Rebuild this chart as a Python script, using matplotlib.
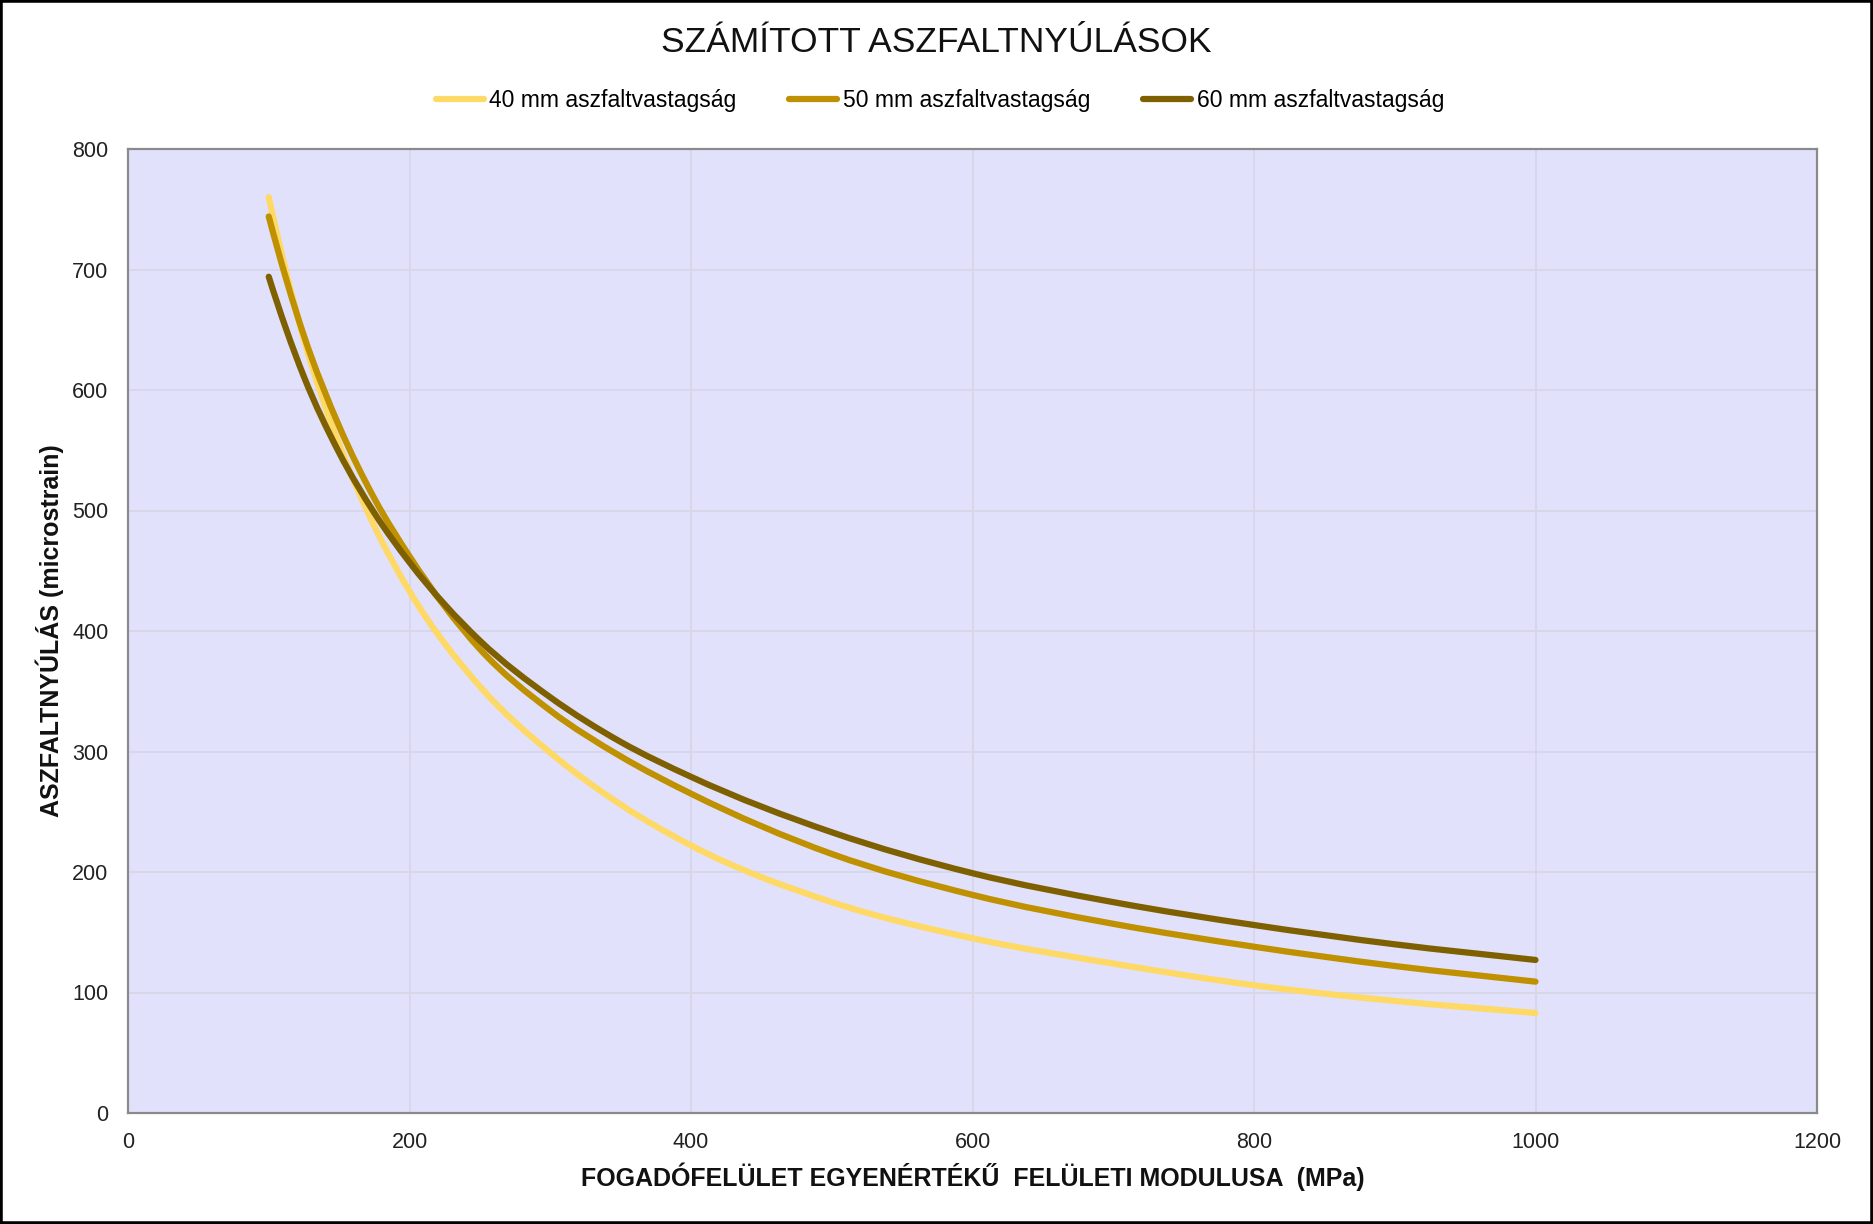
import matplotlib
matplotlib.use("Agg")
import matplotlib.pyplot as plt
from matplotlib.path import Path
from matplotlib.patches import PathPatch, Rectangle
from matplotlib.lines import Line2D
import numpy as np

plt.rcParams['font.family'] = ['Liberation Sans', 'DejaVu Sans']

# ---- data ----
title = "SZÁMÍTOTT ASZFALTNYÚLÁSOK"
x_label = "FOGADÓFELÜLET EGYENÉRTÉKŰ  FELÜLETI MODULUSA  (MPa)"
y_label = "ASZFALTNYÚLÁS (microstrain)"
series_names = ["40 mm aszfaltvastagság", "50 mm aszfaltvastagság", "60 mm aszfaltvastagság"]
modulus = [100, 125, 150, 175, 200, 250, 300, 350, 400, 500, 600, 700, 800, 900, 1000]
strain_40 = [760, 642, 555, 487, 433, 354, 299, 256, 222, 175, 145, 124, 106, 93, 83]
strain_50 = [744, 645, 570, 510, 462, 385, 334, 296, 265, 215, 181, 157, 138, 122, 109]
strain_60 = [694, 611, 548, 498, 457, 392, 345, 308, 279, 233, 199, 175, 156, 140, 127]
x_ticks = [0, 200, 400, 600, 800, 1000, 1200]
y_ticks = [0, 100, 200, 300, 400, 500, 600, 700, 800]

colors = ["#FFD966", "#BF9000", "#7F6000"]


def smooth_path(xs, ys):
    """Cubic Bezier path through the data points (like a smoothed line)."""
    xs = np.asarray(xs, float)
    ys = np.asarray(ys, float)
    h = np.diff(xs)
    d = np.diff(ys) / h
    m = np.empty_like(xs)
    m[0] = d[0] + (d[0] - d[1]) * h[0] / (h[0] + h[1])
    m[-1] = d[-1]
    for i in range(1, len(xs) - 1):
        m[i] = (d[i - 1] * h[i] + d[i] * h[i - 1]) / (h[i - 1] + h[i])
    verts = [(xs[0], ys[0])]
    codes = [Path.MOVETO]
    for i in range(len(xs) - 1):
        verts += [(xs[i] + h[i] / 3, ys[i] + m[i] * h[i] / 3),
                  (xs[i + 1] - h[i] / 3, ys[i + 1] - m[i + 1] * h[i] / 3),
                  (xs[i + 1], ys[i + 1])]
        codes += [Path.CURVE4] * 3
    return Path(verts, codes)


W, H = 1873, 1224
fig = plt.figure(figsize=(W / 100, H / 100), dpi=100)
fig.patch.set_facecolor("white")

ax = fig.add_axes([128 / W, 1 - 1113 / H, (1817 - 128) / W, (1113 - 149) / H])
ax.set_facecolor("#E1E1FC")

lw = 4.5
handles = []
for ys, c, name in zip([strain_40, strain_50, strain_60], colors, series_names):
    patch = PathPatch(smooth_path(modulus, ys), facecolor="none", edgecolor=c,
                      lw=lw, capstyle="round", joinstyle="round", zorder=3)
    ax.add_patch(patch)
    handles.append(Line2D([], [], color=c, lw=lw, solid_capstyle="round", label=name))

ax.set_xlim(0, 1200)
ax.set_ylim(0, 800)
ax.set_xticks(x_ticks)
ax.set_yticks(y_ticks)
ax.tick_params(length=0, labelsize=15.5, colors="#222222", pad=14)
ax.grid(True, color="#D6D6E6", lw=1.2, zorder=0)
ax.set_axisbelow(True)
for s in ax.spines.values():
    s.set_color("#8A8A8A")
    s.set_linewidth(1.6)

ax.set_xlabel(x_label, fontsize=18, fontweight="bold", labelpad=6.5, color="#111111")
ax.set_ylabel(y_label, fontsize=18, fontweight="bold", labelpad=6, color="#111111")

fig.text(0.5, 1 - 43 / H, title, ha="center", va="center", fontsize=25.5, color="#111111")

fig.legend(handles=handles, loc="center", bbox_to_anchor=(940 / W, 1 - 101 / H),
           ncol=3, frameon=False, fontsize=16.5, handlelength=2.1, handletextpad=0.25,
           columnspacing=2.3)

fig.patches.append(Rectangle((0, 0), 1, 1, transform=fig.transFigure, fill=False,
                             edgecolor="black", lw=4, zorder=10))

fig.savefig("out.png", dpi=100)
